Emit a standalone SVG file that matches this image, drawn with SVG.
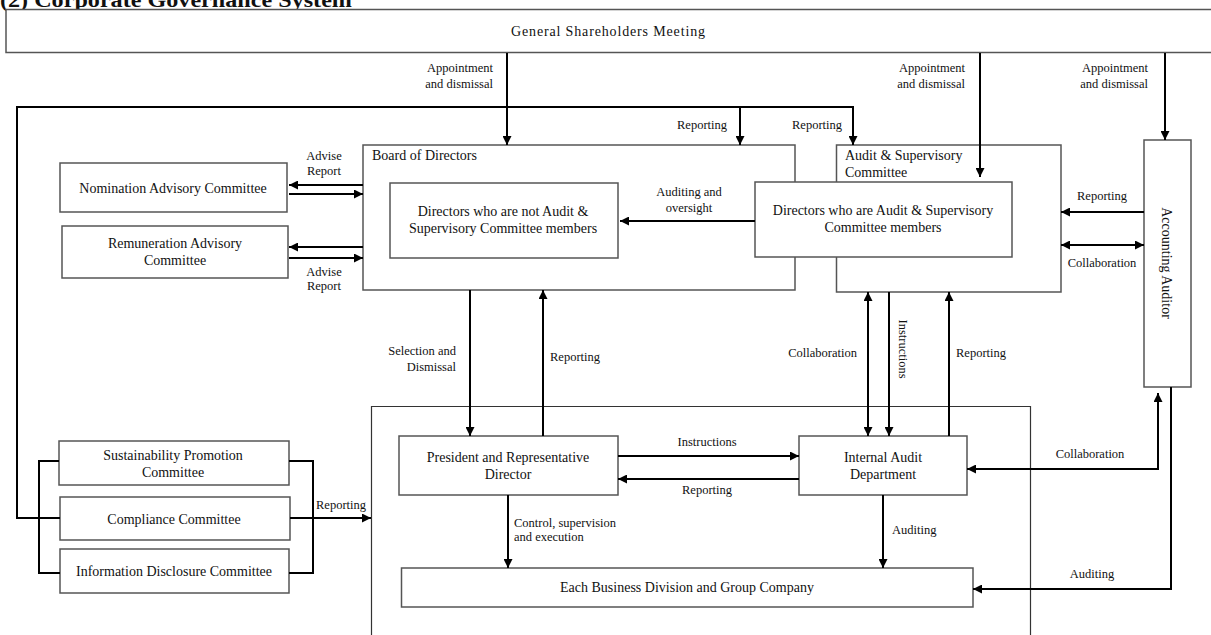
<svg xmlns="http://www.w3.org/2000/svg" width="1211" height="635" viewBox="0 0 1211 635">
<defs>
<marker id="arr" viewBox="0 0 10 10" refX="10" refY="5" markerWidth="9" markerHeight="9" markerUnits="userSpaceOnUse" orient="auto-start-reverse">
<path d="M0,0 L10,5 L0,10 z" fill="#000"/>
</marker>
<style>
.box{fill:#fff;stroke:#555;stroke-width:1.5}
.cont{fill:none;stroke:#333;stroke-width:1.2}
.c{fill:none;stroke:#000;stroke-width:2}
.a{marker-end:url(#arr)}
.d{marker-start:url(#arr);marker-end:url(#arr)}
text{font-family:"Liberation Serif","Times New Roman",serif;fill:#111}
.t{font-size:14px;text-anchor:middle}
.l{font-size:12.5px}
.m{text-anchor:middle}
.e{text-anchor:end}
</style>
</defs>
<rect width="1211" height="635" fill="#fff"/>
<text x="0" y="7" textLength="352" lengthAdjust="spacingAndGlyphs" style="font-size:22px;font-weight:bold">(2) Corporate Governance System</text>

<path class="cont" d="M371.5,635 V406.5 H1030.5 V635"/>

<g id="shareholders">
<rect class="box" x="6" y="9.5" width="1210" height="43"/>
<text class="t" x="608" y="36" textLength="194" lengthAdjust="spacing">General Shareholders Meeting</text>
</g>
<g id="board">
<rect class="box" x="363" y="145" width="432" height="145"/>
<text x="372" y="160" style="font-size:14px">Board of Directors</text>
</g>
<g id="non-audit-directors">
<rect class="box" x="390" y="183" width="228" height="75"/>
<text class="t" x="503" y="216">Directors who are not Audit &amp;</text>
<text class="t" x="503" y="233">Supervisory Committee members</text>
</g>
<g id="audit-committee">
<rect class="box" x="836.5" y="145" width="224.5" height="147"/>
<text x="845" y="160" style="font-size:14px">Audit &amp; Supervisory</text>
<text x="845" y="177" style="font-size:14px">Committee</text>
</g>
<g id="audit-directors">
<rect class="box" x="755" y="182" width="257" height="75"/>
<text class="t" x="883" y="215">Directors who are Audit &amp; Supervisory</text>
<text class="t" x="883" y="232">Committee members</text>
</g>
<g id="accounting-auditor">
<rect class="box" x="1144" y="140" width="47" height="247"/>
<text class="t" transform="translate(1162,263) rotate(90)" x="0" y="0">Accounting Auditor</text>
</g>
<g id="nomination">
<rect class="box" x="60" y="163" width="227" height="49"/>
<text class="t" x="173" y="193">Nomination Advisory Committee</text>
</g>
<g id="remuneration">
<rect class="box" x="62" y="226" width="226" height="52"/>
<text class="t" x="175" y="248">Remuneration Advisory</text>
<text class="t" x="175" y="265">Committee</text>
</g>
<g id="president">
<rect class="box" x="399" y="436" width="219" height="59"/>
<text class="t" x="508" y="462">President and Representative</text>
<text class="t" x="508" y="479">Director</text>
</g>
<g id="internal-audit">
<rect class="box" x="799" y="436" width="168" height="59"/>
<text class="t" x="883" y="462">Internal Audit</text>
<text class="t" x="883" y="479">Department</text>
</g>
<g id="business">
<rect class="box" x="401.5" y="568" width="571.5" height="39"/>
<text class="t" x="687" y="592">Each Business Division and Group Company</text>
</g>
<g id="sustainability">
<rect class="box" x="59" y="441" width="230" height="44"/>
<text class="t" x="173" y="460">Sustainability Promotion</text>
<text class="t" x="173" y="477">Committee</text>
</g>
<g id="compliance">
<rect class="box" x="60" y="497" width="230" height="43"/>
<text class="t" x="174" y="524">Compliance Committee</text>
</g>
<g id="disclosure">
<rect class="box" x="60" y="549" width="229" height="44"/>
<text class="t" x="174" y="576">Information Disclosure Committee</text>
</g>

<g id="connectors">
<path class="c a" d="M507,53 V145"/>
<path class="c a" d="M980,53 V177"/>
<path class="c a" d="M1165,53 V140"/>
<path class="c a" d="M60,518 H17 V107 H853 V145"/>
<path class="c a" d="M740,107 V145"/>
<path class="c a" d="M755,221 H620"/>
<path class="c a" d="M363,185 H289"/>
<path class="c a" d="M289,194 H363"/>
<path class="c a" d="M363,247 H289"/>
<path class="c a" d="M289,258 H363"/>
<path class="c a" d="M1144,212 H1061"/>
<path class="c d" d="M1061,245 H1144"/>
<path class="c a" d="M470,290 V436"/>
<path class="c a" d="M543,436 V290"/>
<path class="c d" d="M868,292 V436"/>
<path class="c a" d="M889,292 V436"/>
<path class="c a" d="M949,436 V292"/>
<path class="c a" d="M618,456 H799"/>
<path class="c a" d="M799,479 H618"/>
<path class="c a" d="M508,495 V568"/>
<path class="c a" d="M883,495 V568"/>
<path class="c d" d="M1158,393 V469 H967"/>
<path class="c a" d="M1171,387 V589 H973"/>
<path class="c" d="M59,461 H39 V573 H60"/>
<path class="c" d="M289,461 H313 V573 H289"/>
<path class="c a" d="M290,518 H371"/>
</g>

<g id="labels">
<text class="l e" x="493" y="72">Appointment</text>
<text class="l e" x="493" y="88">and dismissal</text>
<text class="l e" x="965" y="72">Appointment</text>
<text class="l e" x="965" y="88">and dismissal</text>
<text class="l e" x="1148" y="72">Appointment</text>
<text class="l e" x="1148" y="88">and dismissal</text>
<text class="l e" x="727" y="129">Reporting</text>
<text class="l" x="792" y="129">Reporting</text>
<text class="l m" x="689" y="196">Auditing and</text>
<text class="l m" x="689" y="212">oversight</text>
<text class="l m" x="324" y="160">Advise</text>
<text class="l m" x="324" y="175">Report</text>
<text class="l m" x="324" y="276">Advise</text>
<text class="l m" x="324" y="290">Report</text>
<text class="l m" x="1102" y="200">Reporting</text>
<text class="l m" x="1102" y="267">Collaboration</text>
<text class="l e" x="456" y="355">Selection and</text>
<text class="l e" x="456" y="371">Dismissal</text>
<text class="l" x="550" y="361">Reporting</text>
<text class="l e" x="857" y="357">Collaboration</text>
<text class="l m" transform="translate(899,349) rotate(90)" x="0" y="0">Instructions</text>
<text class="l" x="956" y="357">Reporting</text>
<text class="l m" x="707" y="446">Instructions</text>
<text class="l m" x="707" y="494">Reporting</text>
<text class="l" x="514" y="527">Control, supervision</text>
<text class="l" x="514" y="541">and execution</text>
<text class="l" x="892" y="534">Auditing</text>
<text class="l m" x="1090" y="458">Collaboration</text>
<text class="l m" x="1092" y="578">Auditing</text>
<text class="l" x="316" y="509">Reporting</text>
</g>
</svg>
